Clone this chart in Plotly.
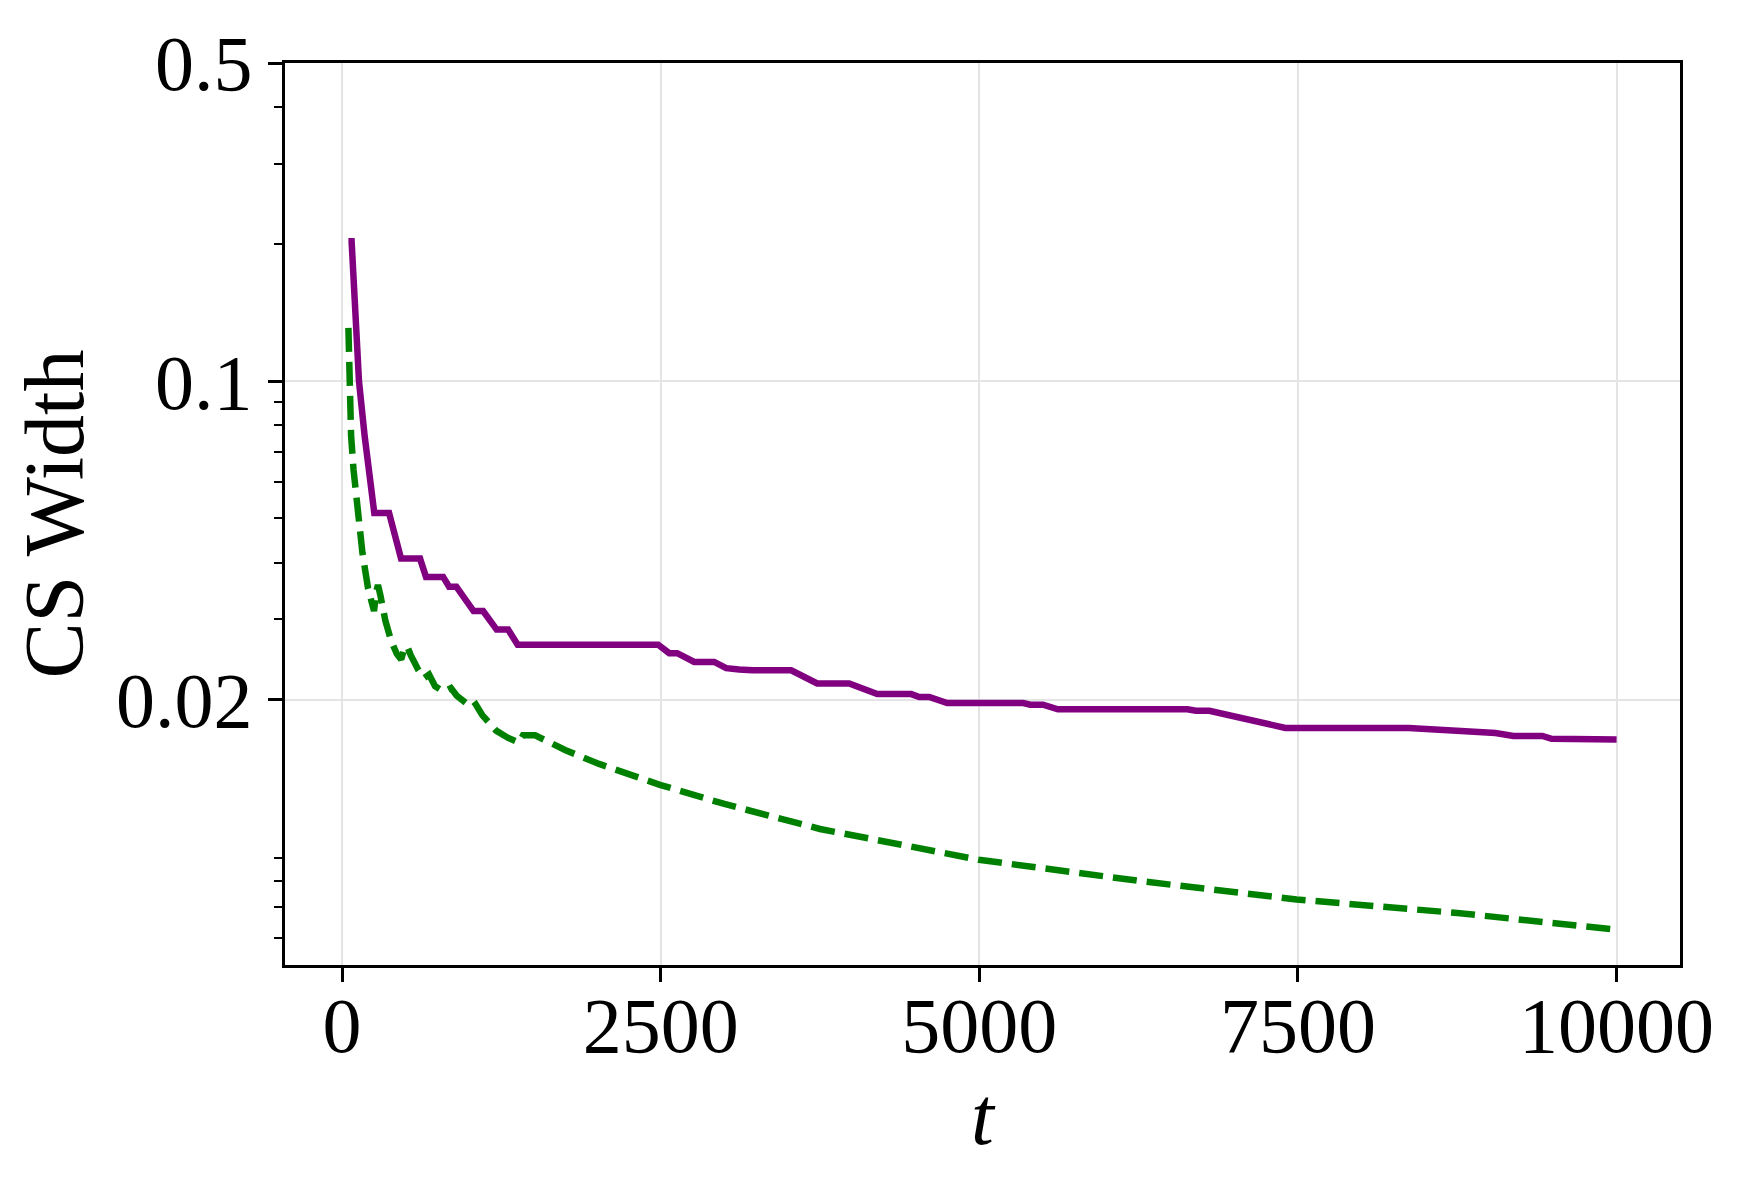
import plotly.graph_objects as go

# ---- data ----
t_purple = [50, 75, 100, 133, 177, 235, 253, 369, 463, 612, 659, 793, 840, 897,
            1032, 1107, 1213, 1303, 1378, 2480, 2567, 2630, 2763, 2920, 3014, 3116,
            3218, 3524, 3728, 3979, 4199, 4466, 4529, 4607, 4748, 5345, 5400,
            5500, 5616, 6632, 6700, 6805, 7401, 8370, 8970, 9050, 9190, 9418, 9490, 10000]
w_purple = [0.203, 0.203, 0.15, 0.1, 0.076, 0.0543, 0.0514, 0.0514, 0.0408, 0.0408,
            0.0372, 0.0372, 0.0354, 0.0354, 0.0313, 0.0313, 0.0285, 0.0285, 0.0264,
            0.0264, 0.0253, 0.0253, 0.0242, 0.0242, 0.02345, 0.0233, 0.0232, 0.0232,
            0.0217, 0.0217, 0.02057, 0.02057, 0.02027, 0.02027, 0.01966, 0.01966,
            0.0195, 0.0195, 0.01905, 0.01905, 0.0189, 0.0189, 0.01733, 0.01733,
            0.0170, 0.0169, 0.01665, 0.01665, 0.0164, 0.01635]

t_green = [50, 60, 71, 90, 118, 160, 204, 235, 251, 268, 282, 300, 340, 386, 430,
           464, 490, 511, 540, 600, 644, 683, 730, 800, 855, 900, 960, 1020, 1050,
           1100, 1209, 1300, 1389, 1420, 1452, 1515, 1750, 2017, 2494, 3000, 3750,
           4997, 6250, 7490, 8750, 10000]
w_green = [0.131, 0.1, 0.076, 0.064, 0.0543, 0.042, 0.0351, 0.0318, 0.0313, 0.0345,
           0.0357, 0.0340, 0.0298, 0.0269, 0.0252, 0.0245, 0.0260, 0.0262, 0.0250,
           0.0232, 0.0223, 0.0227, 0.0214, 0.0208, 0.0212, 0.0204, 0.0198, 0.0192,
           0.0195, 0.0185, 0.0171, 0.0165, 0.0161, 0.0167, 0.0167, 0.0167, 0.0155,
           0.01445, 0.0130, 0.0118, 0.0104, 0.0089, 0.0080, 0.00728, 0.0068, 0.00625]

x_ticks = [0, 2500, 5000, 7500, 10000]
x_ticktext = ["0", "2500", "5000", "7500", "10000"]
y_ticks = [0.02, 0.1, 0.5]
y_ticktext = ["0.02", "0.1", "0.5"]
y_minor = [0.006, 0.007, 0.008, 0.009, 0.03, 0.04, 0.05, 0.06, 0.07, 0.08, 0.09,
           0.2, 0.3, 0.4]

FONT = "Liberation Serif"
GRID = "#e4e4e4"

fig = go.Figure()
fig.add_trace(go.Scatter(x=t_purple, y=w_purple, mode="lines",
                         line=dict(color="#800080", width=6.5), showlegend=False))
fig.add_trace(go.Scatter(x=t_green, y=w_green, mode="lines",
                         line=dict(color="#008000", width=6.5, dash="24px,10px"),
                         showlegend=False))

fig.update_layout(
    width=1741, height=1188,
    margin=dict(l=277, r=69, t=49, b=231),
    paper_bgcolor="white", plot_bgcolor="white",
    font=dict(family=FONT, color="black", size=78),
    xaxis=dict(
        range=[-447.5, 10497.5], tickmode="array", tickvals=x_ticks, ticktext=x_ticktext,
        showline=True, mirror=True, linecolor="black", linewidth=3,
        ticks="outside", ticklen=14, tickwidth=2.5, tickcolor="black",
        showgrid=True, gridcolor=GRID, gridwidth=2, zeroline=False,
        tickfont=dict(size=78, family=FONT), ticklabelstandoff=-24,
        title=dict(text="<i>t</i>", font=dict(size=82, family=FONT), standoff=20),
    ),
    yaxis=dict(
        type="log", range=[-2.2817, -0.30103], tickmode="array",
        tickvals=y_ticks, ticktext=y_ticktext,
        showline=True, mirror=True, linecolor="black", linewidth=3,
        ticks="outside", ticklen=14, tickwidth=2.5, tickcolor="black",
        showgrid=True, gridcolor=GRID, gridwidth=2, zeroline=False,
        tickfont=dict(size=78, family=FONT), ticklabelstandoff=0,
        minor=dict(tickmode="array", tickvals=y_minor, ticks="outside", ticklen=8,
                   tickwidth=2, tickcolor="black", showgrid=False),
        title=dict(text="CS Width", font=dict(size=84, family=FONT), standoff=28),
    ),
)

fig.write_html("out.html")
